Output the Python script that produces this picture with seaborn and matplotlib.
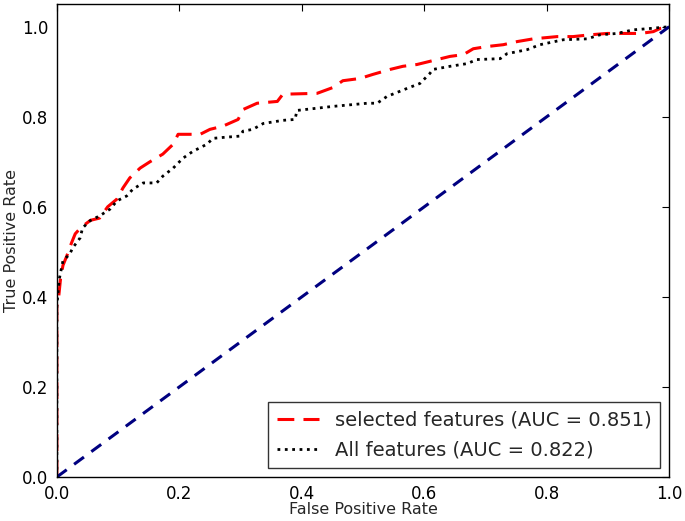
import numpy as np
import pandas as pd
import matplotlib
matplotlib.use("Agg")
import matplotlib.pyplot as plt
import seaborn as sns

# ROC curve points
fpr_sel = [0, 0, 0.003, 0.006, 0.01, 0.016, 0.024, 0.03, 0.04, 0.055,
           0.07, 0.083, 0.098, 0.108, 0.119, 0.136, 0.152, 0.173, 0.19, 0.198,
           0.234, 0.25, 0.271, 0.296, 0.304, 0.327, 0.36, 0.369, 0.425, 0.451,
           0.467, 0.495, 0.516, 0.544, 0.565, 0.588, 0.621, 0.642, 0.664, 0.68,
           0.703, 0.729, 0.752, 0.778, 0.817, 0.843, 0.871, 0.899, 0.953, 0.974,
           0.985, 1.0]
tpr_sel = [0, 0.38, 0.40, 0.44, 0.47, 0.49, 0.52, 0.54, 0.555, 0.57,
           0.575, 0.6, 0.617, 0.642, 0.664, 0.686, 0.70, 0.717, 0.739, 0.761,
           0.761, 0.772, 0.779, 0.794, 0.816, 0.830, 0.834, 0.85, 0.852, 0.865,
           0.88, 0.885, 0.894, 0.905, 0.912, 0.916, 0.927, 0.934, 0.938, 0.951,
           0.956, 0.960, 0.967, 0.973, 0.978, 0.978, 0.982, 0.985, 0.985, 0.989,
           0.996, 1.0]

fpr_all = [0, 0, 0.004, 0.01, 0.021, 0.026, 0.038, 0.042, 0.054, 0.07,
           0.087, 0.098, 0.114, 0.124, 0.141, 0.163, 0.173, 0.19, 0.206, 0.222,
           0.245, 0.255, 0.271, 0.299, 0.304, 0.32, 0.337, 0.369, 0.389, 0.392,
           0.425, 0.451, 0.507, 0.523, 0.539, 0.572, 0.593, 0.609, 0.614, 0.642,
           0.67, 0.686, 0.724, 0.735, 0.768, 0.789, 0.827, 0.866, 0.887, 0.915,
           0.941, 0.969, 1.0]
tpr_all = [0, 0.38, 0.44, 0.48, 0.495, 0.509, 0.531, 0.553, 0.569, 0.58,
           0.595, 0.613, 0.624, 0.639, 0.653, 0.653, 0.668, 0.686, 0.708, 0.723,
           0.739, 0.752, 0.754, 0.757, 0.768, 0.772, 0.785, 0.792, 0.794, 0.814,
           0.819, 0.823, 0.83, 0.83, 0.845, 0.863, 0.874, 0.896, 0.905, 0.912,
           0.918, 0.927, 0.929, 0.94, 0.949, 0.96, 0.971, 0.973, 0.982, 0.985,
           0.993, 0.996, 1.0]

chance = [0, 1]

label_sel = "selected features (AUC = 0.851)"
label_all = "All features (AUC = 0.822)"

sns.set_theme(style="white")
plt.rcParams["font.family"] = ["DejaVu Sans"]

fig = plt.figure(figsize=(6.85, 5.21), dpi=100)
ax = fig.add_axes([0.083, 0.0845, 0.894, 0.9075])

sns.lineplot(x=fpr_sel, y=tpr_sel, ax=ax, color="red", lw=2.2, sort=False,
             estimator=None, label=label_sel)
ax.lines[-1].set_dashes((5.5, 3))
sns.lineplot(x=fpr_all, y=tpr_all, ax=ax, color="black", lw=2, sort=False,
             estimator=None, label=label_all)
ax.lines[-1].set_linestyle(":")
sns.lineplot(x=chance, y=chance, ax=ax, color="navy", lw=2.2, sort=False,
             estimator=None)
ax.lines[-1].set_dashes((4, 3))

ax.set_xlim(0, 1.0)
ax.set_ylim(0, 1.05)
ax.set_xticks([0, 0.2, 0.4, 0.6, 0.8, 1.0])
ax.set_yticks([0, 0.2, 0.4, 0.6, 0.8, 1.0])
ax.set_xlabel("False Positive Rate", fontsize=11.5, labelpad=-1)
ax.set_ylabel("True Positive Rate", fontsize=11.5, labelpad=2)
ax.tick_params(direction="in", length=5, width=0.8, top=True, right=True,
               labelsize=12, colors="black", pad=6)
for s in ax.spines.values():
    s.set_color("black")
    s.set_linewidth(1)

leg = ax.legend(loc="lower right", fontsize=14, frameon=True, fancybox=False,
                borderaxespad=0.45, handlelength=2.2, borderpad=0.45,
                labelspacing=0.55, handletextpad=0.8)
leg.get_frame().set_edgecolor("black")
leg.get_frame().set_linewidth(1)

plt.savefig("out.png", dpi=100)
